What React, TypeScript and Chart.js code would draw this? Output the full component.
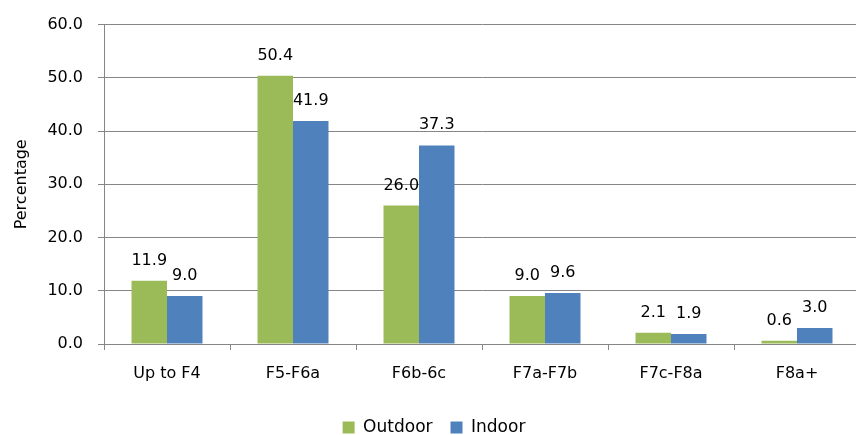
import React, { useEffect, useRef } from "react";
import { Chart, registerables } from "chart.js";

Chart.register(...registerables);

const categories = ["Up to F4", "F5-F6a", "F6b-6c", "F7a-F7b", "F7c-F8a", "F8a+"];
const outdoor = [11.9, 50.4, 26.0, 9.0, 2.1, 0.6];
const indoor = [9.0, 41.9, 37.3, 9.6, 1.9, 3.0];
const seriesNames = ["Outdoor", "Indoor"];
const yTicks = [0, 10, 20, 30, 40, 50, 60];

const GREEN = "#9BBB59";
const BLUE = "#4F81BD";
const AXIS = "#868686";
const FONT = "DejaVu Sans";

// Writes each bar's value just above it
const valueLabels = {
  id: "valueLabels",
  afterDatasetsDraw(chart: any) {
    const { ctx } = chart;
    ctx.save();
    ctx.font = `16px "${FONT}"`;
    ctx.fillStyle = "#000";
    ctx.textAlign = "center";
    ctx.textBaseline = "alphabetic";
    chart.data.datasets.forEach((ds: any, di: number) => {
      const meta = chart.getDatasetMeta(di);
      meta.data.forEach((bar: any, i: number) => {
        ctx.fillText(Number(ds.data[i]).toFixed(1), bar.x, bar.y - 16);
      });
    });
    ctx.restore();
  },
};

export default function App() {
  const ref = useRef<HTMLCanvasElement | null>(null);

  useEffect(() => {
    document.body.style.margin = "0";
    document.body.style.overflow = "hidden";
    const canvas = ref.current;
    if (!canvas) return;
    const chart = new Chart(canvas, {
      type: "bar",
      data: {
        labels: categories,
        datasets: [
          { label: seriesNames[0], data: outdoor, backgroundColor: GREEN, borderWidth: 0 },
          { label: seriesNames[1], data: indoor, backgroundColor: BLUE, borderWidth: 0 },
        ],
      },
      options: {
        responsive: false,
        animation: false,
        devicePixelRatio: 1,
        layout: { padding: { left: 8, top: 22, right: 0, bottom: -11 } },
        datasets: {
          bar: { barPercentage: 1, categoryPercentage: 0.5635 },
        },
        plugins: {
          tooltip: { enabled: false },
          legend: {
            position: "bottom",
            labels: {
              boxWidth: 12,
              boxHeight: 12,
              padding: 18,
              color: "#000",
              font: { family: FONT, size: 17 },
            },
          },
        },
        scales: {
          x: {
            grid: {
              display: true,
              drawOnChartArea: false,
              drawTicks: true,
              tickLength: 6,
              offset: true,
              color: AXIS,
            },
            border: { display: true, color: AXIS },
            ticks: {
              color: "#000",
              padding: 14,
              font: { family: FONT, size: 16 },
              maxRotation: 0,
            },
            afterFit(scale: any) {
              scale.height = 57;
            },
          },
          y: {
            min: 0,
            max: 60,
            afterBuildTicks(scale: any) {
              scale.ticks = yTicks.map((v) => ({ value: v }));
            },
            grid: { color: AXIS, tickLength: 6, drawTicks: true },
            border: { display: true, color: AXIS },
            ticks: {
              color: "#000",
              padding: 15,
              font: { family: FONT, size: 16 },
              callback: (v: any) => Number(v).toFixed(1),
            },
            title: {
              display: true,
              text: "Percentage",
              color: "#000",
              font: { family: FONT, size: 16 },
              padding: { top: 4, bottom: 0 },
            },
            afterFit(scale: any) {
              scale.width = 96;
            },
          },
        },
      },
      plugins: [valueLabels],
    });
    return () => chart.destroy();
  }, []);

  // The plot runs slightly past the right edge of the frame, so the
  // canvas is a little wider than its clipping box.
  return (
    <div style={{ width: 856, height: 435, overflow: "hidden", background: "#fff" }}>
      <canvas ref={ref} width={860} height={435} style={{ display: "block" }} />
    </div>
  );
}
